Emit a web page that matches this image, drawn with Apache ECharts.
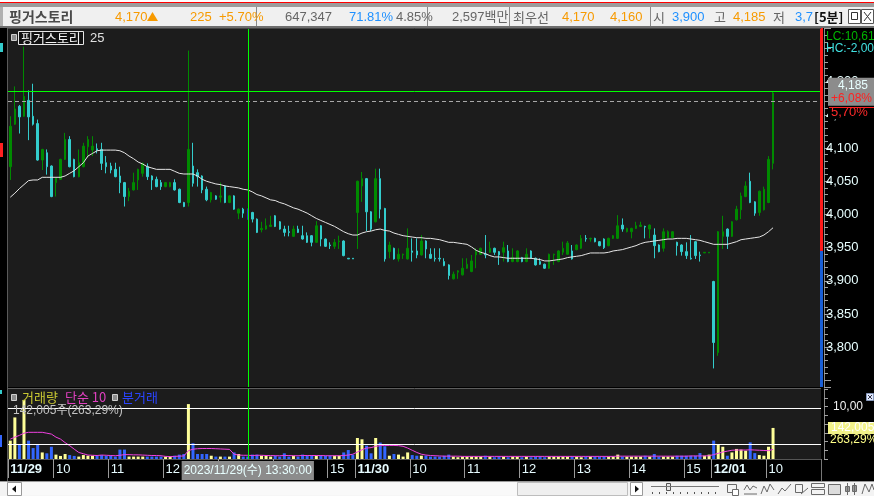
<!DOCTYPE html>
<html>
<head>
<meta charset="utf-8">
<script src="https://cdn.jsdelivr.net/npm/echarts@6/dist/echarts.min.js"></script>
<style>
html,body{margin:0;padding:0;background:#000;overflow:hidden;}
#chart{width:874px;height:496px;}
</style>
</head>
<body>
<div id="chart"></div>
<script>
// ---------------- DATA ----------------
const tradeDays    = ['11/29', '11/30', '12/01'];
const dayStartSlot = ['09:10', '09:00', '09:00'];
const dayEndSlot   = ['15:30', '15:30', '10:55'];   // 12/01 keeps empty future slots
const closingSlots = ['15:00', '15:05', '15:10', '15:15', '15:20', '15:30'];

// [open, close, low, high]
const candles1129 = [
[4072,4133,4052,4148],[4136,4159,4135,4193],[4163,4147,4122,4165],[4148,4178,4147,4253],[4172,4147,4112,4187],
[4148,4136,4134,4197],[4137,4082,4081,4143],[4082,4098,4067,4099],[4093,4072,4060,4098],[4073,4027,4026,4074],
[4048,4055,4027,4056],[4053,4083,4052,4084],[4083,4113,4082,4123],[4113,4072,4071,4118],[4083,4057,4056,4084],
[4057,4078,4056,4098],[4072,4103,4071,4108],[4102,4113,4085,4118],[4097,4103,4088,4118],[4099,4097,4092,4107],
[4098,4077,4067,4108],[4078,4072,4062,4088],[4073,4067,4062,4078],[4068,4057,4056,4078],[4058,4048,4032,4072],
[4048,4027,4012,4049],[4027,4035,4020,4040],[4037,4048,4036,4063],[4052,4068,4037,4069],[4062,4077,4057,4078],
[4072,4057,4052,4077],[4058,4052,4037,4059],[4053,4042,4041,4057],[4048,4042,4037,4052],[4042,4048,4041,4049],
[4042,4048,4041,4049],[4048,4037,4036,4053],[4038,4018,4017,4039],[4018,4012,4011,4019],[4018,4098,4012,4247],
[4073,4047,4042,4108],[4063,4057,4042,4068],[4058,4037,4032,4059],[4038,4022,4020,4042],[4022,4033,4018,4034],
[4028,4023,4022,4029],[4026,4028,4018,4048],[4043,4018,4017,4044],[4018,4028,4017,4029],[4028,4008,4007,4029],
[4002,4008,3993,4009],[4008,4002,3995,4010],[4008,3993,3992,4009],[4003,3993,3988,4004],[3993,3973,3972,3994],
[3977,3979,3973,3989],[3978,3983,3977,3994],[3982,3984,3981,3998],[3998,3982,3981,3999],[3989,3978,3977,3990],
[3978,3973,3967,3983],[3974,3973,3967,3983],[3967,3978,3966,3983],[3978,3973,3972,3983],[3968,3963,3962,3983],
[3968,3958,3957,3973],[3968,3958,3952,3969],[3958,3983,3957,3990],[3983,3963,3952,3984],[3963,3952,3951,3964],
[3954,3953,3948,3958],[3952,3958,3948,3963],[3959,3960,3948,3968],[3960,3938,3937,3961],[3934,3933,3933,3934],
[3934,3933,3933,3934]
];
const candles1130 = [
[4003,4050,3948,4051],[4043,4054,4019,4064],[4054,4004,3975,4055],[4004,3978,3975,4005],[3989,4054,3988,4069],
[4054,4008,3994,4069],[4009,3933,3929,4010],[3944,3954,3934,3959],[3949,3933,3932,3950],[3933,3940,3929,3949],
[3939,3940,3933,3941],[3933,3949,3932,3979],[3945,3943,3929,3964],[3945,3939,3934,3964],[3939,3960,3938,3969],
[3960,3948,3934,3961],[3940,3934,3933,3949],[3934,3933,3929,3949],[3934,3933,3929,3949],[3929,3923,3922,3934],
[3924,3908,3902,3925],[3903,3910,3902,3914],[3913,3915,3903,3916],[3909,3919,3908,3934],[3919,3925,3918,3934],
[3914,3930,3913,3939],[3939,3944,3919,3949],[3940,3949,3939,3950],[3940,3939,3934,3969],[3943,3949,3942,3959],
[3949,3943,3939,3950],[3944,3939,3924,3945],[3943,3950,3929,3959],[3945,3929,3928,3954],[3929,3935,3928,3949],
[3929,3945,3928,3946],[3935,3929,3928,3936],[3929,3940,3928,3949],[3945,3934,3933,3946],[3934,3924,3923,3935],
[3929,3925,3924,3934],[3925,3919,3918,3926],[3919,3940,3918,3941],[3939,3940,3924,3941],[3929,3945,3928,3946],
[3943,3949,3939,3959],[3940,3957,3939,3960],[3945,3933,3932,3954],[3947,3954,3946,3955],[3949,3964,3948,3969],
[3964,3963,3959,3969],[3963,3964,3959,3965],[3964,3959,3958,3965],[3959,3953,3952,3960],[3963,3950,3948,3964],
[3953,3964,3952,3965],[3964,3968,3963,3969],[3964,3983,3963,3999],[3984,3978,3974,3994],[3974,3979,3973,3980],
[3974,3979,3964,3980],[3979,3983,3978,3989],[3982,3984,3981,3989],[3982,3981,3964,3983],[3978,3984,3964,3985],
[3969,3953,3934,3979],[3954,3944,3943,3955],[3949,3974,3944,3979],[3965,3974,3964,3976],[3965,3974,3964,3975],
[3958,3953,3938,3959],[3954,3944,3938,3955],[3944,3938,3933,3958],[3934,3933,3932,3969],[3959,3938,3933,3960],
[3939,3938,3929,3944],[3942,3943,3942,3943],[3942,3943,3942,3943]
];
const candles1201 = [
[3899,3807,3768,3900],[3792,3974,3787,3975],[3967,3974,3948,3998],[3978,3967,3948,3979],[3967,3989,3966,3990],
[3992,4008,3991,4013],[4007,4028,3993,4033],[4027,4043,4026,4050],[4050,4018,4017,4063],[4019,4002,3998,4020],
[4003,4035,3998,4036],[4007,4038,4006,4042],[4018,4083,4017,4088],[4077,4183,4068,4185]
];

// 25-bar price moving average
const ma25_1129 = [
4026,4032,4039,4045,4051,4052,4052,4056,4056,4056, 4056,4056,4058,4062,4066,4072,4078,4088,4092,4096,
4097,4097,4097,4097,4096,4093,4088,4084,4079,4076, 4072,4070,4068,4068,4068,4068,4065,4062,4061,4061,
4061,4058,4053,4050,4048,4046,4045,4043,4042,4041, 4040,4038,4037,4034,4030,4028,4025,4022,4021,4018,
4016,4013,4010,4008,4005,4002,3998,3994,3991,3988, 3985,3982,3978,3974,3971,3969
];
const ma25_1130 = [
3969,3972,3974,3975,3977,3978,3976,3975,3972,3970, 3968,3967,3966,3965,3965,3964,3964,3963,3962,3960,
3958,3958,3957,3956,3955,3951,3946,3943,3941,3938, 3936,3936,3935,3934,3934,3934,3934,3934,3934,3933,
3932,3930,3930,3931,3932,3933,3935,3936,3937,3938, 3940,3942,3942,3942,3942,3943,3945,3946,3947,3949,
3951,3953,3956,3958,3959,3960,3961,3962,3963,3963, 3964,3964,3964,3963,3962,3961,3959,3957
];
const ma25_1201 = [3955,3955,3955,3955,3957,3959,3962,3963,3964,3965,3966,3969,3974,3980];

// volume (thousand shares)
const vol1129 = [
84,190,64,270,84,50,64,30,26,56, 20,14,23,18,14,11,18,15,15,14, 18,14,15,11,43,43,11,11,11,11,
11,11,11,11,11,11,15,20,23,251, 72,23,23,23,15,11,11,11,11,30, 23,11,11,20,20,15,15,11,15,11,
26,11,15,11,20,15,18,15,15,15, 15,15,15,30,41,20
];
const vol1130 = [
96,90,61,26,96,75,58,15,23,20, 11,30,18,15,15,15,11,11,11,15, 20,11,8,11,11,11,11,11,15,11,
8,11,11,8,11,11,8,11,8,11, 11,8,11,11,11,11,11,11,11,8, 11,11,11,11,11,11,11,20,11,11,
11,11,11,15,11,23,11,11,11,11, 15,15,15,15,15,27,15,20
];
const vol1201 = [84,64,56,15,30,46,43,38,76,27,18,15,56,142.005];

// 10-bar simple volume average (pink line, thousand shares)
const volMa1129 = [
91,100,108,118,122,122,122,122,118,114, 100,91,75,61,45,30,24,18,17,16, 18,17,16,15,17,20,20,19,19,18,
17,16,16,15,12,11,12,13,14,38, 45,47,48,48,48,47,46,45,44,22, 18,17,17,16,17,17,16,16,15,15,
16,16,15,15,16,16,16,16,16,15, 15,15,15,16,18,22
];
const volMa1130 = [
32,42,50,52,58,61,62,62,62,61, 58,50,40,30,22,18,16,15,14,13, 13,13,13,12,12,12,12,12,12,12,
12,12,12,12,12,12,12,12,12,12, 12,12,12,12,12,12,12,12,12,12, 12,12,12,12,12,12,12,13,13,13,
13,13,13,13,13,13,13,13,13,13, 13,13,13,14,14,14,14,15
];
const volMa1201 = [20,26,32,36,40,41,41,41,42,41,40,39,38,44];

const volumeGuideLevels = [232, 67];   // thousand shares, white guide lines
const basePrice  = 3945;   // previous close
const lastPrice  = 4170;
const crossPrice = 4185;
const crossIndex = 52;     // 11/29 13:30 bar
const crossText  = '2023/11/29(수) 13:30:00';
const lastVolume = 142005;
const volumeRatio = 263.29;

// ---------------- BUILD ----------------
function pad2(n){ return (n < 10 ? '0' : '') + n; }
const sessionSlots = [];
for (let h = 9; h <= 14; h++) for (let m = 0; m < 60; m += 5) sessionSlots.push(pad2(h) + ':' + pad2(m));
closingSlots.forEach(t => sessionSlots.push(t));
const categories = [];
tradeDays.forEach((d, k) => {
  const s = sessionSlots.indexOf(dayStartSlot[k]), e = sessionSlots.indexOf(dayEndSlot[k]);
  for (let j = s; j <= e; j++) categories.push(d + ' ' + sessionSlots[j]);
});
const ohlc   = candles1129.concat(candles1130, candles1201);
const ma25   = ma25_1129.concat(ma25_1130, ma25_1201);
const vols   = vol1129.concat(vol1130, vol1201).map(v => Math.round(v * 1000));
const volMa  = volMa1129.concat(volMa1130, volMa1201).map(v => v * 1000);

const UP = '#008a00', DOWN = '#33cccc', CROSSBAR = '#2b2bb8';
const VUP = '#ffff99', VDOWN = '#3366ff';
const SANS = '"Liberation Sans","Noto Sans CJK KR",sans-serif';
const KR = '"Noto Sans CJK KR","Liberation Sans",sans-serif';

function fmtNum(v){ return String(v).replace(/\B(?=(\d{3})+(?!\d))/g, ','); }
function pctText(p){ return ((p - basePrice) / basePrice * 100).toFixed(2).replace('.', ','); }
function isDayStart(i){ return i === 0 || categories[i].split(' ')[0] !== categories[i-1].split(' ')[0]; }
function isMark(i){ const t = categories[i].split(' ')[1]; return isDayStart(i) || (t.slice(3) === '00' && t !== '09:00'); }
function fmtCat(value, i){
  const p = value.split(' ');
  if (isDayStart(i)) return '{d|' + p[0] + '}';
  return '{h|' + parseInt(p[1], 10) + '}';
}

const candleData = ohlc.map((r, i) => i === crossIndex
  ? { value: r, itemStyle: { color: CROSSBAR, color0: CROSSBAR, borderColor: CROSSBAR, borderColor0: CROSSBAR } }
  : r);
const volData = vols.map((v, i) => ({ value: v, itemStyle: { color: ohlc[i][1] >= ohlc[i][0] ? VUP : VDOWN } }));

const chart = echarts.init(document.getElementById('chart'));
const option = {
  animation: false,
  backgroundColor: '#000',
  grid: [
    { left: 8, top: 28, width: 813, height: 359, show: true, backgroundColor: '#1c1c1c', borderWidth: 0 },
    { left: 8, top: 389, width: 813, height: 70, show: true, backgroundColor: '#1c1c1c', borderWidth: 0 }
  ],
  xAxis: [
    { gridIndex: 0, type: 'category', data: categories, boundaryGap: true,
      axisLine: { show: false }, axisTick: { show: false }, axisLabel: { show: false }, splitLine: { show: false } },
    { gridIndex: 1, type: 'category', data: categories, boundaryGap: true,
      axisLine: { show: true, lineStyle: { color: '#555' } },
      axisTick: { show: true, interval: (i) => isMark(i), length: 19, lineStyle: { color: '#9a9a9a' } },
      axisLabel: { show: true, interval: (i) => isMark(i), formatter: fmtCat, align: 'left', margin: 4,
        color: '#e6fbff', fontFamily: SANS, fontSize: 13, hideOverlap: false,
        rich: { d: { fontWeight: 'bold', fontSize: 13, color: '#e6fbff', fontFamily: SANS },
                h: { fontSize: 13, color: '#e6fbff', fontFamily: SANS } } },
      splitLine: { show: false } }
  ],
  yAxis: [
    { gridIndex: 0, type: 'value', position: 'right', offset: 3, min: 3740, max: 4281, splitNumber: 10,
      axisLine: { show: true, lineStyle: { color: '#8a8a8a' } },
      axisTick: { show: true, length: 7, lineStyle: { color: '#a0a0a0' } },
      minorTick: { show: true, splitNumber: 5, length: 4, lineStyle: { color: '#a0a0a0' } },
      splitLine: { show: false }, minorSplitLine: { show: false },
      axisLabel: { margin: 2, color: '#e8ffff', fontFamily: SANS, fontSize: 13,
        formatter: v => (v < 3800 || v > 4200) ? '' : fmtNum(v) } },
    { gridIndex: 1, type: 'value', position: 'right', offset: 3, min: 0, max: 320000, interval: 40000,
      axisLine: { show: true, lineStyle: { color: '#8a8a8a' } },
      axisTick: { show: true, length: 4, lineStyle: { color: '#a0a0a0' } },
      axisLabel: { show: false }, splitLine: { show: false } }
  ],
  series: [
    { type: 'candlestick', xAxisIndex: 0, yAxisIndex: 0, data: candleData, barWidth: 2,
      itemStyle: { color: UP, color0: DOWN, borderColor: UP, borderColor0: DOWN, borderWidth: 1 },
      markLine: { symbol: 'none', silent: true, animation: false,
        data: [
          { yAxis: lastPrice, lineStyle: { color: '#a8a8a8', width: 1, type: [4, 3] },
            label: { show: true, position: 'end', distance: 7, offset: [0, 11], formatter: pctText(lastPrice) + '%',
              color: '#ff2a2a', fontFamily: SANS, fontSize: 13, backgroundColor: '#000', padding: [0, 8, 0, 3] } },
          { yAxis: crossPrice, lineStyle: { color: '#00ff00', width: 1, type: 'solid' },
            label: { show: true, position: 'end', distance: 7,
              formatter: '{a|' + fmtNum(crossPrice) + '}\n{b|+' + pctText(crossPrice) + '%}',
              backgroundColor: '#8c8c8c', padding: [1, 3, 1, 3],
              rich: { a: { color: '#e8ffff', fontFamily: SANS, fontSize: 12, lineHeight: 13, padding: [0, 0, 0, 7] },
                      b: { color: '#ff2020', fontFamily: SANS, fontSize: 12, lineHeight: 13 } } } },
          { xAxis: categories[crossIndex], lineStyle: { color: '#00ff00', width: 1, type: 'solid' }, label: { show: false } }
        ] } },
    { type: 'line', xAxisIndex: 0, yAxisIndex: 0, data: ma25, symbol: 'none', z: 3,
      lineStyle: { color: '#e6e6e6', width: 1 } },
    { type: 'bar', xAxisIndex: 1, yAxisIndex: 1, data: volData, barWidth: 3,
      markLine: { symbol: 'none', silent: true, animation: false,
        data: [
          { yAxis: volumeGuideLevels[0] * 1000, lineStyle: { color: '#ffffff', width: 1, type: 'solid' }, label: { show: false } },
          { yAxis: volumeGuideLevels[1] * 1000, lineStyle: { color: '#ffffff', width: 1, type: 'solid' }, label: { show: false } },
          { yAxis: lastVolume, lineStyle: { color: 'rgba(0,0,0,0)', width: 1 },
            label: { show: true, position: 'end', distance: 7, offset: [0, 6],
              formatter: '{a|' + fmtNum(lastVolume) + '}\n{b|' + volumeRatio.toFixed(2).replace('.', ',') + '%}',
              rich: { a: { color: '#ffffff', backgroundColor: '#f2f28a', fontFamily: SANS, fontSize: 12, lineHeight: 12, padding: [0, 6, 0, 3] },
                      b: { color: '#ffff88', fontFamily: SANS, fontSize: 12, lineHeight: 12, padding: [0, 0, 0, 2] } } } },
          { xAxis: categories[crossIndex], lineStyle: { color: '#00ff00', width: 1, type: 'solid' },
            label: { show: true, position: 'start', distance: 2, formatter: crossText, color: '#e8ffff',
              backgroundColor: '#8c8c8c', padding: [4, 2, 3, 2], fontFamily: SANS, fontSize: 12 } }
        ] } },
    { type: 'line', xAxisIndex: 1, yAxisIndex: 1, data: volMa, symbol: 'none', z: 3,
      lineStyle: { color: '#f040e0', width: 1 } }
  ]
};
chart.setOption(option);

// ---------------- DECORATION (panel chrome) ----------------
function T(x, y, text, fill, font, extra){
  return Object.assign({ type: 'text', x: x, y: y, z: 100,
    style: { text: text, fill: fill, font: font, verticalAlign: 'middle', textVerticalAlign: 'middle' } }, extra || {});
}
function R(x, y, w, h, fill, stroke){
  return { type: 'rect', z: 90, shape: { x: x, y: y, width: w, height: h },
    style: { fill: fill || 'none', stroke: stroke || 'none', lineWidth: 1 } };
}
function L(x1, y1, x2, y2, c){
  return { type: 'line', z: 95, shape: { x1: x1, y1: y1, x2: x2, y2: y2 }, style: { stroke: c, lineWidth: 1 } };
}
const yBase = chart.convertToPixel({ yAxisIndex: 0 }, basePrice);
const yLast = chart.convertToPixel({ yAxisIndex: 0 }, lastPrice);
const g = [];
// header
g.push(R(0, 0, 874, 2, '#ffffff'), R(0, 2, 874, 1, '#ff0000'), R(0, 3, 874, 4, '#9c9c9c'),
       R(0, 7, 874, 19, '#f0f0f0'), R(0, 26, 874, 2, '#6e6e6e'), R(0, 7, 3, 19, '#b0b0b0'));
[256, 427, 509, 650].forEach(x => g.push(L(x + 0.5, 7, x + 0.5, 26, '#8a8a8a')));
const orange = '#f79a00', grayT = '#666666', blueT = '#1e90ff';
g.push(T(9, 17, '핑거스토리', '#4a4a4a', 'bold 14px ' + KR));
g.push(T(115, 17, fmtNum(lastPrice), orange, '13px ' + SANS));
g.push({ type: 'polygon', z: 100, shape: { points: [[147, 21], [152.5, 12], [158, 21]] }, style: { fill: orange } });
g.push(T(190, 17, String(lastPrice - basePrice), orange, '13px ' + SANS));
g.push(T(219, 17, '+5.70%', orange, '13px ' + SANS));
g.push(T(285, 17, '647,347', grayT, '13px ' + SANS));
g.push(T(349, 17, '71.81%', blueT, '13px ' + SANS));
g.push(T(396, 17, '4.85%', grayT, '13px ' + SANS));
g.push(T(452, 17, '2,597백만', grayT, '13px ' + SANS));
g.push(T(513, 17, '최우선', grayT, '13px ' + KR));
g.push(T(562, 17, '4,170', orange, '13px ' + SANS));
g.push(T(610, 17, '4,160', orange, '13px ' + SANS));
g.push(T(653, 17, '시', grayT, '13px ' + KR));
g.push(T(672, 17, '3,900', blueT, '13px ' + SANS));
g.push(T(714, 17, '고', grayT, '13px ' + KR));
g.push(T(733, 17, '4,185', orange, '13px ' + SANS));
g.push(T(773, 17, '저', grayT, '13px ' + KR));
g.push(T(795, 17, '3,7', blueT, '13px ' + SANS));
g.push(R(812, 7, 62, 19, '#f0f0f0'));
g.push(T(814, 17, '[5분]', '#111111', 'bold 13px ' + KR));
g.push(R(848.5, 9.5, 12, 14, '#ffffff', '#555'), R(851.5, 12.5, 6, 7, 'none', '#333'));
g.push(R(861.5, 9.5, 12, 14, '#ffffff', '#555'), L(864, 12, 871, 21, '#333'), L(871, 12, 864, 21, '#333'));

// left strip
g.push(R(0, 28, 8, 453, '#000000'), L(7.5, 28, 7.5, 481, '#5a5a5a'));
g.push(R(0, 43, 3, 9, '#33cccc'), R(0, 143, 3, 14, '#ff2020'), R(0, 390, 2, 4, '#33cccc'), R(0, 435, 2, 12, '#3366ff'));
// panel separator
g.push(L(8, 388.5, 821, 388.5, '#5e5e5e'), L(8, 28.5, 821, 28.5, '#444'));
// price base bar on the axis
g.push(R(820, 28, 3, yBase - 28, '#ff1a1a'), R(820, yBase, 3, 387 - yBase, '#1a5fd6'));
g.push(L(829, Math.round(yLast) + 5.5, 874, Math.round(yLast) + 5.5, '#ff2020'));
// right texts
g.push(T(826, 37, 'LC:10,61', '#00b400', '12px ' + SANS));
g.push(T(826, 49, 'HC:-2,00', '#40e0e0', '12px ' + SANS));
g.push(T(833, 407, '10,00', '#f0f0f0', '12px ' + SANS));
g.push(R(866.5, 393.5, 7, 7, '#dfe8ff', '#8899bb'), L(868, 395, 872, 399, '#334'), L(872, 395, 868, 399, '#334'));
// price legend
g.push(R(11.5, 34.5, 5, 6, '#8c8c8c', '#cfcfcf'));
g.push(R(18.5, 31.5, 65, 13, '#111111', '#e6e6e6'));
g.push(T(21, 38.5, '핑거스토리', '#f2f2f2', '13px ' + KR));
g.push(T(90, 38.5, '25', '#e0e0e0', '13px ' + SANS));
// volume legend
g.push(R(11.5, 394.5, 5, 6, '#8c8c8c', '#cfcfcf'));
g.push(T(22, 397.5, '거래량', '#c8c832', '13px ' + KR));
g.push(T(65, 397.5, '단순 10', '#e040c0', '13px ' + KR));
g.push(R(112.5, 394.5, 5, 6, '#8c8c8c', '#cfcfcf'));
g.push(T(122, 397.5, '분거래', '#2a44ff', '13px ' + KR));
g.push(T(13, 410.5, fmtNum(lastVolume) + '주(' + volumeRatio.toFixed(2).replace('.', ',') + '%)', '#c4c4c4', '12px ' + SANS));
// x-axis strip end
g.push(L(821.5, 459, 821.5, 481, '#777'));
// bottom toolbar
g.push(R(0, 481, 874, 15, '#f3f3f3'), L(0, 481.5, 874, 481.5, '#9a9a9a'));
g.push(R(7.5, 482.5, 14, 13, '#ffffff', '#9a9a9a'));
g.push({ type: 'polygon', z: 100, shape: { points: [[12, 489], [16, 485.5], [16, 492.5]] }, style: { fill: '#111' } });
g.push(R(22, 482.5, 495, 13, '#f9f9f9'));
g.push(R(517.5, 482.5, 110, 13, '#efefef', '#bdbdbd'));
g.push(R(630.5, 482.5, 12, 13, '#ffffff', '#9a9a9a'));
g.push({ type: 'polygon', z: 100, shape: { points: [[639, 489], [635, 485.5], [635, 492.5]] }, style: { fill: '#111' } });
g.push(L(651, 486.5, 719, 486.5, '#777'), R(666.5, 483.5, 4, 7, '#e8e8e8', '#555'));
for (let x = 652; x <= 718; x += 7) g.push(L(x + 0.5, 492, x + 0.5, 494, '#555'));
const ic = '#6a6a6a';
g.push(R(727.5, 484.5, 9, 8, 'none', ic), R(732.5, 489.5, 6, 6, '#ffffff', ic));
g.push({ type: 'polyline', z: 100, shape: { points: [[744, 490], [747, 485], [750, 490], [753, 486], [757, 488]] }, style: { stroke: ic, fill: 'none' } });
g.push(L(744, 494, 757, 494, ic));
g.push({ type: 'polyline', z: 100, shape: { points: [[761, 494], [764, 486], [767, 492], [770, 484], [774, 490]] }, style: { stroke: ic, fill: 'none' } });
g.push({ type: 'polyline', z: 100, shape: { points: [[778, 494], [782, 488], [785, 491], [791, 484]] }, style: { stroke: ic, fill: 'none' } });
g.push(R(795.5, 484.5, 7, 8, 'none', ic), L(801, 494, 808, 488, ic));
g.push(R(811.5, 483.5, 13, 4, 'none', ic), R(811.5, 489.5, 13, 5, 'none', ic));
g.push(R(828.5, 484.5, 12, 10, '#dcdcdc', ic));
g.push(L(847.5, 483, 847.5, 495, ic), R(845.5, 486.5, 4, 5, '#999', ic), L(854.5, 483, 854.5, 495, ic), R(852.5, 485.5, 4, 6, '#999', ic));
g.push({ type: 'polyline', z: 100, shape: { points: [[862, 494], [865, 484], [869, 492], [872, 484], [874, 490]] }, style: { stroke: ic, fill: 'none' } });

chart.setOption({ graphic: { elements: g } });
</script>
</body>
</html>
